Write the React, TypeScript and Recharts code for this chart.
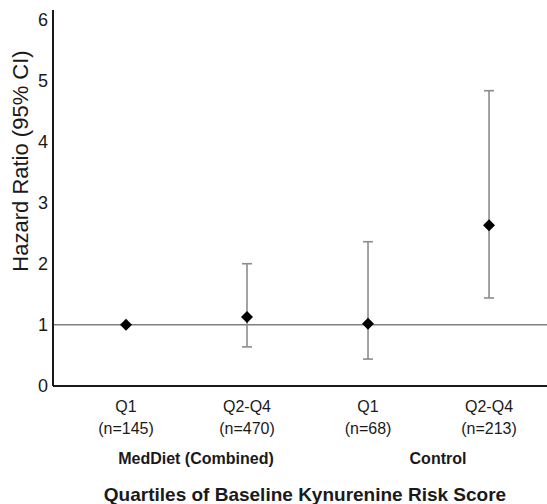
import { ScatterChart, Scatter, XAxis, YAxis, ErrorBar, ReferenceLine } from "recharts";

const quartiles = ["Q1", "Q2-Q4", "Q1", "Q2-Q4"];
const sampleSizes = [145, 470, 68, 213];
const groupNames = ["MedDiet (Combined)", "", "Control", ""];
const hazardRatios = [1.0, 1.13, 1.02, 2.63];
const ciLower = [null, 0.64, 0.44, 1.44];
const ciUpper = [null, 2.0, 2.36, 4.83];
const yTicks = [0, 1, 2, 3, 4, 5, 6];

const rows = quartiles.map((q, i) => ({
  pos: i + 1,
  hr: hazardRatios[i],
  ci:
    ciLower[i] == null || ciUpper[i] == null
      ? undefined
      : [hazardRatios[i] - (ciLower[i] as number), (ciUpper[i] as number) - hazardRatios[i]],
}));

const FONT = "Liberation Sans, Arial, sans-serif";

const Diamond = (props: any) => {
  const { cx, cy } = props;
  const r = 6;
  return <path d={`M${cx},${cy - r}L${cx + r},${cy}L${cx},${cy + r}L${cx - r},${cy}Z`} fill="#000" />;
};

const XTick = (props: any) => {
  const { x, y, payload } = props;
  const i = Math.round(payload.value) - 1;
  return (
    <g fontFamily={FONT} fill="#1a1a1a">
      <text x={x} y={y + 26} textAnchor="middle" fontSize={16}>
        {quartiles[i]}
      </text>
      <text x={x} y={y + 47.5} textAnchor="middle" fontSize={16}>
        (n={sampleSizes[i]})
      </text>
      {groupNames[i] && (
        <text x={x + 70} y={y + 77.5} textAnchor="middle" fontSize={16} fontWeight="bold">
          {groupNames[i]}
        </text>
      )}
    </g>
  );
};

const YLabel = (props: any) => {
  const { viewBox } = props;
  const cx = 20;
  const cy = viewBox.y + 151;
  return (
    <text
      x={cx}
      y={cy}
      textAnchor="middle"
      dominantBaseline="central"
      fontSize={22}
      fontFamily={FONT}
      fill="#1a1a1a"
      transform={`rotate(-90, ${cx}, ${cy})`}
    >
      Hazard Ratio (95% CI)
    </text>
  );
};

const TitleLabel = (props: any) => {
  const { viewBox } = props;
  return (
    <text
      x={305}
      y={viewBox.y + 115}
      textAnchor="middle"
      fontSize={19}
      fontWeight="bold"
      fontFamily={FONT}
      fill="#1a1a1a"
    >
      Quartiles of Baseline Kynurenine Risk Score
    </text>
  );
};

export default function App() {
  return (
    <div style={{ position: "absolute", left: 0, top: 0, background: "#fff" }}>
      <ScatterChart width={547} height={504} margin={{ top: 10, right: 0, bottom: 0, left: 0 }}>
        <XAxis
          type="number"
          dataKey="pos"
          domain={[0.397, 4.479]}
          ticks={[1, 2, 3, 4]}
          height={118}
          tickSize={0}
          tickMargin={0}
          tickLine={false}
          axisLine={{ stroke: "#1a1a1a", strokeWidth: 2 }}
          tick={<XTick />}
          label={{ content: <TitleLabel /> }}
          allowDataOverflow
        />
        <YAxis
          type="number"
          dataKey="hr"
          domain={[0, 6.15]}
          ticks={yTicks}
          width={53}
          tickSize={0}
          tickMargin={5}
          tickLine={false}
          axisLine={{ stroke: "#1a1a1a", strokeWidth: 2 }}
          tick={{ fontSize: 18, fill: "#1a1a1a", fontFamily: FONT }}
          label={{ content: <YLabel /> }}
          allowDataOverflow
        />
        <ReferenceLine y={1} stroke="#7f7f7f" strokeWidth={1.5} />
        <Scatter data={rows} shape={<Diamond />} isAnimationActive={false}>
          <ErrorBar dataKey="ci" direction="y" width={5} stroke="#8c8c8c" strokeWidth={1.6} />
        </Scatter>
      </ScatterChart>
    </div>
  );
}
